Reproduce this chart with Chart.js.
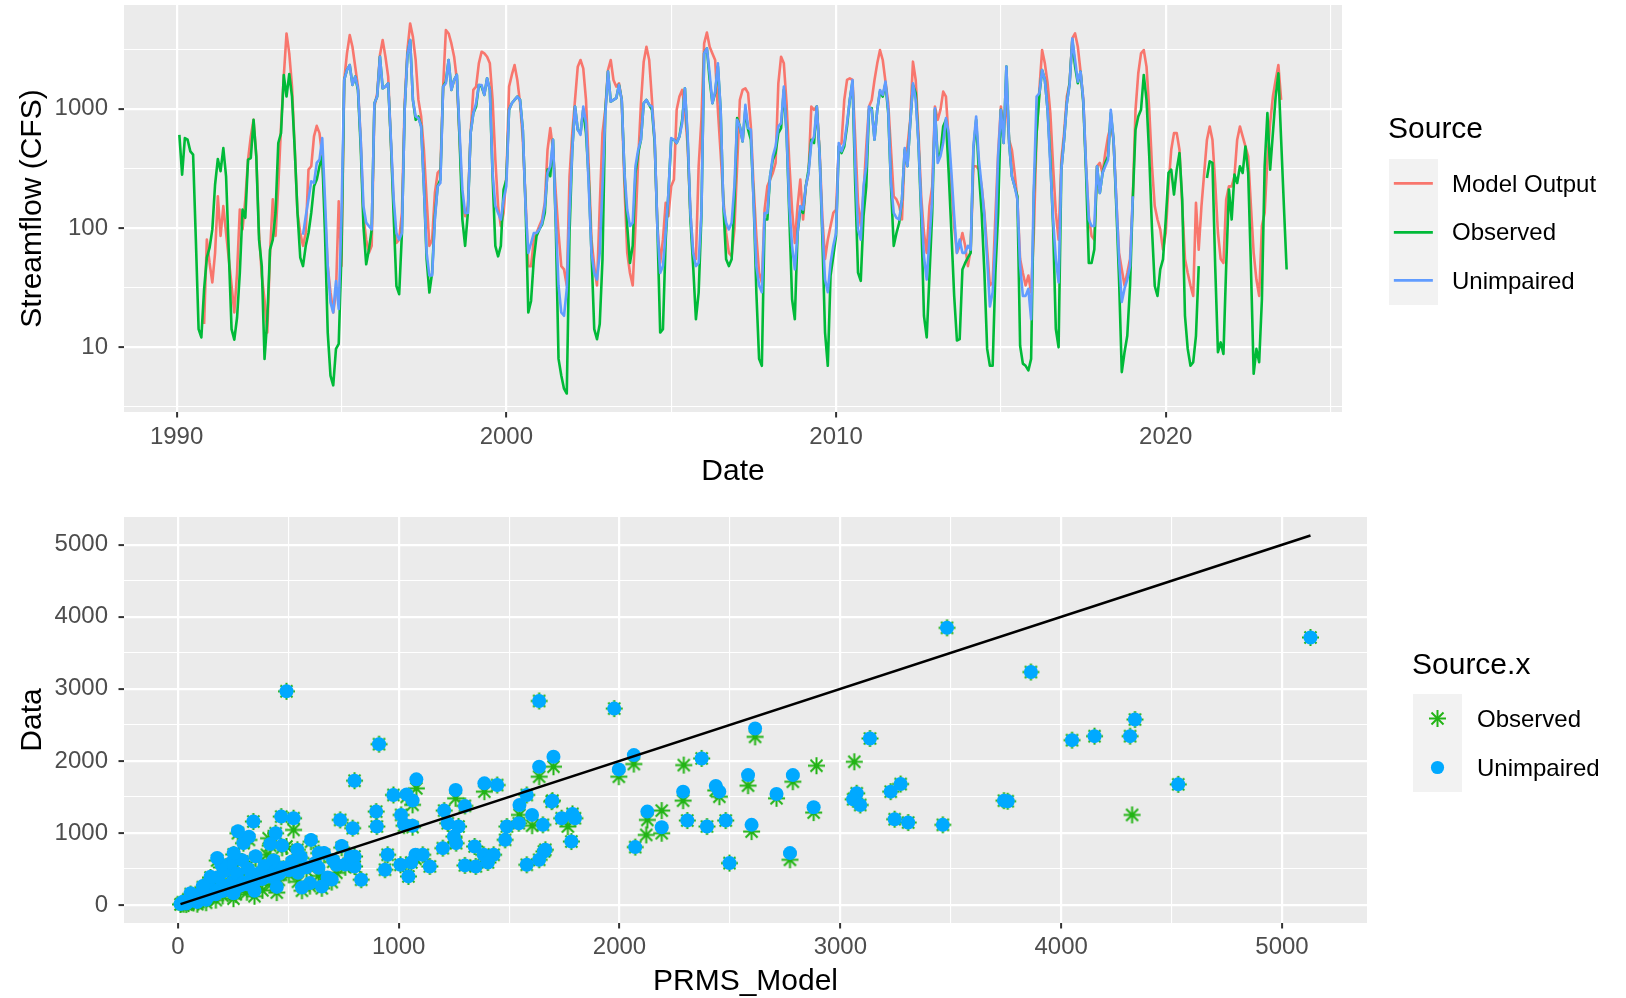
<!DOCTYPE html>
<html lang="en">
<head>
<meta charset="utf-8">
<title>Streamflow: PRMS model vs observed</title>
<script src="https://cdn.jsdelivr.net/npm/chart.js@4.4.1/dist/chart.umd.min.js"></script>
<style>
    html, body { margin: 0; padding: 0; background: #ffffff; }
    body { position: relative; width: 1626px; height: 998px; overflow: hidden; font-family: 'Liberation Sans', Arial, sans-serif; }
    canvas { position: absolute; left: 0; }
    #flowChart { top: 0; }
    #scatterChart { top: 490px; }
    .legend-title { position: absolute; font-size: 30px; line-height: 30px; color: #000; white-space: nowrap; }
    .legend-keys { position: absolute; background: #F2F2F2; }
    .legend-glyph { position: absolute; }
    .legend-label { position: absolute; font-size: 24px; line-height: 24px; color: #000; white-space: nowrap; }
</style>
</head>
<body>
<canvas id="flowChart" width="1626" height="490"></canvas>
<canvas id="scatterChart" width="1626" height="508"></canvas>
<div id="flowLegend"></div>
<div id="scatterLegend"></div>
<script>
(function () {
    // monthly mean streamflow (CFS); [year, month] of the first value
    const OBSERVED_START = [1990, 2];
    const MODEL_START = [1990, 11];
    const UNIMPAIRED_START = [1993, 11];

    const observed = [
        606, 281, 569, 551, 440, 413, 80, 14.2, 12.1, 30.7, 56.5, 68.5,
        97.5, 232, 380, 300, 469, 272, 62, 14.2, 11.6, 17.8, 42, 143,
        122, 375, 387, 809, 400, 80, 48, 8.0, 17.2, 66, 80, 134,
        517, 626, 1924, 1268, 1961, 1268, 454, 134, 56.5, 48, 71, 91,
        134, 224, 255, 330, 400, 91, 13.3, 5.8, 4.8, 9.7, 10.7, 62,
        1747, 2118, 2332, 1587, 1863, 1441, 484, 104, 49.7, 66, 97.5, 1115,
        1268, 2737, 1488, 1537, 1639, 517, 126, 32.7, 27.9, 91, 981, 2827,
        3773, 1189, 809, 863, 712, 224, 54.7, 28.8, 42.3, 126, 224, 255,
        1537, 1692, 2568, 1441, 1747, 1924, 551, 118, 71, 134, 626, 920,
        1046, 1587, 1537, 1309, 1805, 1441, 272, 71, 58, 71, 210, 255,
        981, 1115, 1189, 1268, 1189, 668, 153, 19.6, 24.5, 54.7, 86, 97.5,
        107, 134, 309, 272, 551, 104, 8.0, 5.8, 4.5, 4.1, 91, 454,
        1046, 668, 626, 981, 626, 255, 62, 14.2, 11.7, 15.7, 54.7, 920,
        2051, 1152, 1189, 1228, 1587, 1189, 290, 104, 51, 71, 290, 426,
        551, 1115, 1189, 1080, 981, 517, 97.5, 13.3, 14.2, 80, 197, 551,
        551, 517, 587, 809, 1488, 551, 118, 48, 17.2, 28.8, 126, 2919,
        3214, 1747, 1115, 1352, 2259, 981, 153, 54.7, 48, 54.7, 163, 836,
        712, 533, 981, 668, 551, 174, 28.8, 8.0, 7.0, 118, 118, 272,
        375, 426, 626, 689, 1441, 626, 126, 25.3, 17.2, 91, 143, 134,
        224, 309, 551, 517, 1046, 426, 86, 13.3, 7.0, 39.7, 58, 86,
        484, 426, 484, 712, 1189, 1692, 224, 42.3, 36.1, 126, 224, 981,
        1013, 551, 981, 1395, 1268, 1639, 920, 224, 71, 91, 111, 174,
        454, 330, 759, 1587, 1352, 517, 126, 18.4, 12.1, 39.7, 134, 981,
        400, 426, 712, 809, 290, 91, 27, 11.4, 11.7, 45, 51, 56.5,
        62, 454, 809, 290, 134, 42.3, 9.7, 7.0, 7.0, 42.3, 134, 981,
        517, 2259, 517, 272, 224, 185, 10.3, 7.3, 7.0, 6.4, 8.0, 197,
        626, 1309, 2118, 1747, 981, 375, 104, 14.2, 10, 309, 551, 1115,
        1639, 3773, 2259, 1639, 2051, 1115, 290, 51, 51, 66, 330, 197,
        290, 352, 400, 920, 551, 153, 37.2, 6.2, 9.1, 12.5, 32.7, 174,
        668, 863, 981, 1924, 1189, 400, 97.5, 32.7, 27, 45, 54.7, 118,
        290, 309, 191, 309, 426, 174, 18.4, 9.7, 7.0, 7.5, 12.5, 48,
        null, null, 263, 363, 352, 48, 9.1, 11, 8.8, 48, 210, 118,
        281, 239, 330, 290, 484, 290, 48, 6.0, 9.7, 7.5, 25.3, 330,
        920, 309, 626, 1268, 1987, 551, 153, 45
    ];

    const modelOutput = [
        15.7, 80, 51,
        35, 62, 185, 86, 153, 91, 55, 33, 19.6, 42, 143, 97.5,
        174, 375, 587, 809, 400, 91, 40, 25, 13.3, 62, 174, 86,
        224, 712, 1863, 4289, 2919, 1537, 454, 134, 91, 71, 91, 309,
        330, 587, 720, 626, 400, 134, 48, 29, 19.6, 29, 168, 48,
        1747, 2919, 4154, 3318, 2259, 1537, 551, 126, 80, 62, 71, 1046,
        1352, 2827, 3773, 2737, 1863, 517, 153, 75, 80, 134, 1115, 3112,
        5198, 4022, 2568, 1189, 863, 454, 174, 71, 80, 197, 290, 309,
        1537, 4574, 4289, 3538, 2737, 1747, 551, 174, 126, 153, 626, 1441,
        1537, 2408, 3014, 2919, 2737, 2408, 1189, 375, 153, 104, 134, 272,
        1537, 1924, 2332, 1747, 1115, 551, 174, 48, 48, 80, 91, 104,
        118, 163, 454, 689, 454, 197, 91, 48, 45, 33, 272, 626,
        1189, 2259, 2568, 2187, 1189, 330, 80, 48, 33, 153, 626, 981,
        2118, 2568, 1747, 1537, 1639, 1189, 224, 62, 42, 33, 104, 375,
        1115, 2487, 3318, 2568, 1189, 517, 104, 51, 80, 163, 126, 224,
        255, 981, 1268, 1441, 981, 484, 134, 62, 55, 330, 809, 3538,
        4372, 3318, 2919, 2568, 981, 426, 174, 91, 62, 58, 97.5, 330,
        1189, 1441, 1488, 1352, 712, 224, 86, 42, 35, 143, 224, 255,
        290, 352, 1639, 2737, 2408, 1115, 352, 143, 75, 153, 255, 118,
        224, 290, 1046, 981, 1046, 454, 126, 55, 80, 104, 134, 143,
        484, 517, 1189, 1747, 1805, 1747, 551, 163, 104, 197, 484, 1046,
        1189, 1747, 2408, 3112, 2568, 1692, 1115, 454, 185, 174, 153, 118,
        426, 484, 809, 2487, 1747, 626, 185, 91, 62, 153, 224, 1046,
        809, 981, 1395, 1268, 551, 224, 104, 62, 71, 91, 71, 48,
        66, 330, 330, 309, 224, 134, 66, 33, 35, 126, 426, 1046,
        712, 1115, 551, 454, 290, 174, 55, 42, 33, 40, 29, 91,
        626, 1441, 3112, 2408, 1639, 920, 330, 134, 80, 375, 626, 1268,
        1639, 3896, 4289, 3318, 2051, 1189, 330, 126, 86, 80, 330, 352,
        290, 426, 587, 712, 551, 174, 62, 45, 33, 42, 55, 174,
        981, 1987, 2919, 3112, 2259, 981, 330, 153, 118, 97.5, 66, 91,
        224, 454, 626, 626, 454, 153, 55, 42, 33, 27, 163, 66,
        153, 290, 551, 712, 551, 239, 91, 55, 51, 174, 224, 224,
        272, 551, 712, 587, 484, 400, 153, 62, 37, 27, 104, 134,
        375, 759, 1268, 1747, 2332, 1189
    ];

    const unimpaired = [
        88, 126, 174,
        247, 239, 352, 375, 569, 174, 48, 23.8, 19.6, 36, 21, 126,
        1747, 2118, 2332, 1587, 1863, 1488, 551, 153, 111, 104, 97.5, 1115,
        1268, 2737, 1488, 1537, 1639, 551, 174, 91, 80, 91, 981, 2827,
        3773, 1189, 863, 836, 712, 224, 62, 40, 40, 118, 224, 239,
        1537, 1639, 2568, 1441, 1747, 1924, 626, 210, 134, 134, 626, 920,
        1115, 1587, 1587, 1309, 1805, 1441, 290, 153, 134, 118, 174, 224,
        981, 1115, 1189, 1268, 1189, 668, 153, 62, 75, 91, 91, 97.5,
        111, 153, 290, 330, 551, 118, 33, 19.6, 18.4, 30.7, 134, 454,
        1046, 668, 606, 1046, 759, 224, 62, 42, 37, 62, 224, 863,
        2051, 1152, 1189, 1228, 1587, 1189, 290, 143, 104, 111, 330, 454,
        551, 1115, 1189, 1080, 1046, 551, 97.5, 42, 48, 91, 197, 569,
        551, 517, 587, 759, 1488, 587, 134, 62, 48, 51, 134, 2919,
        3214, 1987, 1115, 1395, 2408, 981, 153, 111, 97.5, 111, 224, 809,
        712, 533, 1080, 689, 668, 163, 48, 33, 29, 134, 134, 272,
        400, 484, 712, 759, 1537, 626, 153, 71, 45, 91, 153, 143,
        224, 290, 517, 587, 1046, 426, 104, 37, 29, 51, 71, 91,
        517, 440, 517, 759, 1189, 1747, 330, 97.5, 80, 224, 330, 1046,
        981, 551, 981, 1441, 1309, 1692, 981, 239, 134, 122, 118, 174,
        469, 330, 759, 1639, 1189, 517, 153, 58, 37, 80, 174, 1013,
        352, 400, 517, 836, 626, 290, 126, 62, 80, 62, 62, 71,
        66, 484, 863, 375, 224, 126, 55, 22, 29, 80, 400, 981,
        517, 2259, 517, 272, 224, 174, 48, 27, 27, 31, 17.2, 224,
        1268, 1352, 2118, 1747, 981, 330, 118, 55, 35, 309, 551, 1115,
        1587, 3896, 2568, 1692, 2051, 1189, 330, 118, 104, 104, 330, 197,
        290, 330, 375, 981, 551, 174, 55, 24, 31, 37, 48, 185
    ];

    const YEAR_TICKS = [1990, 2000, 2010, 2020];
    const FLOW_TICKS = [10, 100, 1000];

    // paired months: PRMS model (x) against observed / unimpaired (y)
    const scatterModel = [
        5129, 4334, 4151, 4312, 4530, 4321, 3483, 3863, 4049, 1976,
        2614, 2065, 1997, 2291, 2372, 2892, 3063, 3134, 2582, 2785,
        2288, 2436, 2452, 2711, 2879, 3074, 3058, 3090, 3228, 3273,
        3246, 3307, 3464, 3741, 3758, 2126, 2191, 2191, 2121, 2071,
        2307, 2396, 2481, 2598, 2498, 2772, 1696, 1738, 1787, 1798,
        1766, 1782, 1658, 492, 911, 1636, 800, 1080, 976, 1036,
        1063, 1258, 1388, 1446, 1701, 1636, 1693, 1547, 1580, 1604,
        1653, 1580, 1636, 1664, 1482, 1490, 1544, 1344, 1385, 1430,
        1300, 1349, 1404, 1300, 1206, 1222, 1271, 1260, 1250, 1200,
        1076, 950, 938, 1008, 1044, 1057, 1109, 1141, 1011, 1024,
        1063, 901, 898, 792, 800, 800, 830, 735, 524, 468,
        443, 342, 297, 541, 638, 524, 492, 411, 403,
        12, 18, 27, 41, 48, 63, 71, 84, 93, 104,
        108, 123, 133, 139, 152, 158, 172, 183, 188, 203,
        212, 218, 233, 241, 248, 262, 268, 283, 291, 297,
        313, 318, 333, 338, 352, 361, 368, 383, 392, 398,
        421, 433, 442, 457, 472, 478, 503, 517, 544, 557,
        583, 598, 622, 637, 662, 678, 703, 718, 742, 758,
        783, 148, 197, 253, 113, 58, 322, 272, 178, 418,
        603, 652, 697, 562, 448, 347, 252, 128, 88, 38,
        23
    ];

    const scatterObserved = [
        3713, 2574, 2343, 2343, 1674, 1250, 3847, 3233, 2288, 2726,
        2334, 1956, 1780, 1942, 2034, 1933, 1988, 2311, 1656, 1711,
        1448, 1590, 1503, 1481, 1282, 1550, 1467, 1388, 1573, 1679,
        1190, 1144, 1112, 1448, 1440, 1181, 1310, 996, 973, 803,
        1172, 1089, 1172, 1019, 581, 627, 1448, 1204, 1264, 1204,
        1089, 881, 743, 2966, 2232, 2832, 1725, 1619, 1527, 1500,
        1390, 1481, 1573, 1665, 1919, 1780, 1434, 1250, 1527, 1100,
        1112, 558, 627, 766, 904, 1089, 1135, 812, 697, 697,
        549, 535, 590, 1375, 1310, 1135, 1089, 858, 950, 789,
        640, 697, 489, 558, 397, 590, 697, 535, 1250, 1100,
        1080, 1089, 1296, 1066, 673, 535, 351, 1181, 1204, 1227,
        996, 1158, 858, 766, 720, 1042, 812, 927, 697,
        8, 16, 11, 33, 19, 52, 28, 88, 42, 135,
        57, 196, 92, 276, 108, 162, 68, 347, 205, 126,
        446, 238, 176, 562, 296, 148, 418, 221, 604, 284,
        177, 482, 352, 247, 648, 297, 423, 203, 518, 378,
        283, 597, 452, 348, 793, 502, 418, 576, 322, 652,
        477, 262, 558, 403, 697, 352, 598, 447, 796, 523,
        648, 382, 521, 702, 247, 152, 903, 996, 617, 823,
        878, 232, 318, 198, 172, 122, 88, 31, 11, 6,
        38
    ];

    const scatterUnimpaired = [
        3713, 2574, 2343, 2343, 1674, null, 3847, 3233, 2288, 2726,
        2449, 2080, 1882, null, 2034, null, null, 2311, 1803, 1803,
        1573, 1651, 1573, 1541, 1356, 1550, 1467, 1388, 1573, 1679,
        1190, 1144, 1112, 1448, 1440, 1296, null, 1079, null, 803,
        1172, 1089, 1172, 1112, 581, 720, 1448, 1204, 1264, 1204,
        null, 881, 743, 2966, 2232, 2832, 1725, 1744, 1527, 1535,
        1450, 1596, 1688, 1665, 2057, 1919, 1434, 1388, 1527, 1250,
        1112, 558, 627, 766, 904, 1089, 1135, 812, 697, 697,
        549, 535, 590, 1375, 1310, 1135, 1089, 858, 950, 789,
        697, 697, 489, 558, 397, 590, 697, 535, 1250, 1120,
        1100, 1089, 1296, 1066, 673, 535, 351, 1181, 1204, 1227,
        996, 1158, 858, 766, 720, null, null, null, null,
        14, 21, 30, 46, 52, 60, 69, 97, 88, 152,
        98, 214, 124, 301, 143, 171, 148, 384, 218, 193,
        471, 262, 224, 583, 318, 243, 437, 268, 622, 312,
        288, 503, 368, 329, 676, 352, 441, 362, 542, 402,
        392, 618, 468, 428, 824, 517, 481, 603, 447, 668,
        523, 304, 583, 517, 723, 383, 622, 558, 818, 562,
        672, 391, 558, 718, 262, 163, 948, 1024, 652, 847,
        903, 257, 352, 243, 251, 198, 162, 72, 41, 19,
        44
    ];

    const DATA_TICKS = [0, 1000, 2000, 3000, 4000, 5000];

    const COLORS = {
        model: '#F8766D',
        observed: '#00BA38',
        unimpaired: '#619CFF',
        observedPoint: '#22B415',
        unimpairedPoint: '#00A9FF'
    };

    Chart.defaults.font.family = "'Liberation Sans', Arial, sans-serif";

    const monthSeries = (values, start) =>
        values.map((v, i) => ({ x: start[0] + (start[1] - 1 + i) / 12, y: v }));

    // ggplot style 5% padding of the data range
    const expand = (lo, hi) => {
        const pad = (hi - lo) * 0.05;
        return [lo - pad, hi + pad];
    };

    const near = (a, b) => Math.abs(a - b) <= 1e-6 * Math.max(1, Math.abs(b));
    const isIn = (list, v) => list.some((m) => near(v, m));

    const linearTicks = (major, min, max) => {
        const step = major[1] - major[0];
        const out = [];
        for (let v = major[0] - step; v <= major[major.length - 1] + step + 1e-9; v += step / 2) {
            if (v >= min && v <= max) out.push({ value: v });
        }
        return out;
    };

    const logTicks = (major, min, max) => {
        const out = [];
        const lo = Math.log10(major[0]) - 1;
        const hi = Math.log10(major[major.length - 1]) + 1;
        for (let e = lo; e <= hi + 1e-9; e += 0.5) {
            const v = Math.pow(10, e);
            if (v >= min && v <= max) out.push({ value: v });
        }
        return out;
    };

    const gridFor = (major) => ({
        color: '#FFFFFF',
        lineWidth: (ctx) => (ctx.tick && isIn(major, ctx.tick.value) ? 2.2 : 1.1),
        tickColor: (ctx) => (ctx.tick && isIn(major, ctx.tick.value) ? '#333333' : 'rgba(0,0,0,0)'),
        tickWidth: 2,
        tickLength: 5.5,
        drawTicks: true
    });

    // fixed axis box size, no extra room for label overhang
    const fixBox = (prop, size) => (s) => {
        s[prop] = size;
        s.paddingTop = 0;
        s.paddingBottom = 0;
        s.paddingLeft = 0;
        s.paddingRight = 0;
    };

    const tickFont = { size: 24 };
    const titleFont = { size: 30 };

    const panelBg = {
        id: 'panelBg',
        beforeDraw(chart) {
            const { ctx, chartArea: a } = chart;
            ctx.save();
            ctx.fillStyle = '#EBEBEB';
            ctx.fillRect(a.left, a.top, a.right - a.left, a.bottom - a.top);
            ctx.restore();
        }
    };

    // ---- top panel: time series ----
    const obsPts = monthSeries(observed, OBSERVED_START);
    const modelPts = monthSeries(modelOutput, MODEL_START);
    const unimpPts = monthSeries(unimpaired, UNIMPAIRED_START);

    const [xMinT, xMaxT] = expand(obsPts[0].x, obsPts[obsPts.length - 1].x);
    const flowVals = [...observed, ...modelOutput, ...unimpaired].filter((v) => v !== null);
    const [lMin, lMax] = expand(Math.log10(Math.min(...flowVals)), Math.log10(Math.max(...flowVals)));
    const yMinT = Math.pow(10, lMin);
    const yMaxT = Math.pow(10, lMax);

    const lineStyle = (color) => ({
        borderColor: color,
        backgroundColor: color,
        borderWidth: 2.6,
        pointRadius: 0,
        tension: 0,
        spanGaps: false,
        borderJoinStyle: 'round',
        fill: false
    });

    new Chart(document.getElementById('flowChart'), {
        type: 'line',
        data: {
            datasets: [
                { label: 'Unimpaired', data: unimpPts, ...lineStyle(COLORS.unimpaired) },
                { label: 'Observed', data: obsPts, ...lineStyle(COLORS.observed) },
                { label: 'Model Output', data: modelPts, ...lineStyle(COLORS.model) }
            ]
        },
        options: {
            responsive: false,
            animation: false,
            events: [],
            layout: { padding: { left: 0, top: 5, right: 284, bottom: 0 } },
            plugins: { legend: { display: false }, tooltip: { enabled: false } },
            scales: {
                x: {
                    type: 'linear',
                    min: xMinT,
                    max: xMaxT,
                    afterBuildTicks: (s) => { s.ticks = linearTicks(YEAR_TICKS, xMinT, xMaxT); },
                    afterFit: fixBox('height', 78),
                    border: { display: false },
                    grid: gridFor(YEAR_TICKS),
                    ticks: {
                        autoSkip: false,
                        maxRotation: 0,
                        padding: 5.5,
                        color: '#4D4D4D',
                        font: tickFont,
                        callback: (v) => (isIn(YEAR_TICKS, v) ? String(Math.round(v)) : '')
                    },
                    title: { display: true, text: 'Date', color: '#000000', font: titleFont, padding: { top: 0, bottom: 0 } }
                },
                y: {
                    type: 'logarithmic',
                    min: yMinT,
                    max: yMaxT,
                    afterBuildTicks: (s) => { s.ticks = logTicks(FLOW_TICKS, yMinT, yMaxT); },
                    afterFit: fixBox('width', 124),
                    border: { display: false },
                    grid: gridFor(FLOW_TICKS),
                    ticks: {
                        autoSkip: false,
                        padding: 10.5,
                        color: '#4D4D4D',
                        font: tickFont,
                        callback: (v) => (isIn(FLOW_TICKS, v) ? String(Math.round(v)) : '')
                    },
                    title: { display: true, text: 'Streamflow (CFS)', color: '#000000', font: titleFont, padding: { top: 15, bottom: 0 } }
                }
            }
        },
        plugins: [panelBg]
    });

    // ---- bottom panel: model vs data ----
    const pairs = (xs, ys) => xs.map((x, i) => ({ x, y: ys[i] })).filter((p) => p.y !== null);
    const xLo = Math.min(...scatterModel);
    const xHi = Math.max(...scatterModel);
    const yVals = [...scatterObserved, ...scatterUnimpaired].filter((v) => v !== null);
    const [xMinB, xMaxB] = expand(xLo, xHi);
    const [yMinB, yMaxB] = expand(Math.min(xLo, ...yVals), Math.max(xHi, ...yVals));

    const asterisk = (color, r, lw) => {
        const size = Math.ceil(2 * r + lw + 2);
        const cv = document.createElement('canvas');
        cv.width = size;
        cv.height = size;
        const g = cv.getContext('2d');
        const c = size / 2;
        g.strokeStyle = color;
        g.lineWidth = lw;
        g.beginPath();
        for (let k = 0; k < 4; k++) {
            const a = (k * Math.PI) / 4;
            g.moveTo(c - r * Math.cos(a), c - r * Math.sin(a));
            g.lineTo(c + r * Math.cos(a), c + r * Math.sin(a));
        }
        g.stroke();
        return cv;
    };

    new Chart(document.getElementById('scatterChart'), {
        type: 'scatter',
        data: {
            datasets: [
                {
                    label: '1:1',
                    data: [{ x: xLo, y: xLo }, { x: xHi, y: xHi }],
                    showLine: true,
                    borderColor: '#000000',
                    borderWidth: 2.6,
                    pointRadius: 0
                },
                {
                    label: 'Unimpaired',
                    data: pairs(scatterModel, scatterUnimpaired),
                    pointStyle: 'circle',
                    pointRadius: 7,
                    backgroundColor: COLORS.unimpairedPoint,
                    borderWidth: 0
                },
                {
                    label: 'Observed',
                    data: pairs(scatterModel, scatterObserved),
                    pointStyle: asterisk(COLORS.observedPoint, 8.5, 2),
                    pointRadius: 9
                }
            ]
        },
        options: {
            responsive: false,
            animation: false,
            events: [],
            layout: { padding: { left: 0, top: 27, right: 259, bottom: 0 } },
            plugins: { legend: { display: false }, tooltip: { enabled: false } },
            scales: {
                x: {
                    type: 'linear',
                    min: xMinB,
                    max: xMaxB,
                    afterBuildTicks: (s) => { s.ticks = linearTicks(DATA_TICKS, xMinB, xMaxB); },
                    afterFit: fixBox('height', 75),
                    border: { display: false },
                    grid: gridFor(DATA_TICKS),
                    ticks: {
                        autoSkip: false,
                        maxRotation: 0,
                        padding: 4.5,
                        color: '#4D4D4D',
                        font: tickFont,
                        callback: (v) => (isIn(DATA_TICKS, v) ? String(Math.round(v)) : '')
                    },
                    title: { display: true, text: 'PRMS_Model', color: '#000000', font: titleFont, padding: { top: 0, bottom: -2 } }
                },
                y: {
                    type: 'linear',
                    min: yMinB,
                    max: yMaxB,
                    afterBuildTicks: (s) => { s.ticks = linearTicks(DATA_TICKS, yMinB, yMaxB); },
                    afterFit: fixBox('width', 124),
                    border: { display: false },
                    grid: gridFor(DATA_TICKS),
                    ticks: {
                        autoSkip: false,
                        padding: 10.5,
                        color: '#4D4D4D',
                        font: tickFont,
                        callback: (v) => (isIn(DATA_TICKS, v) ? String(Math.round(v)) : '')
                    },
                    title: { display: true, text: 'Data', color: '#000000', font: titleFont, padding: { top: 15, bottom: 0 } }
                }
            }
        },
        plugins: [panelBg]
    });

    // ---- legends ----
    const glyph = (item, size) => {
        const c = size / 2;
        if (item.shape === 'line') {
            return `<line x1="${c - 19.5}" y1="${c}" x2="${c + 19.5}" y2="${c}" stroke="${item.color}" stroke-width="2.6"/>`;
        }
        if (item.shape === 'star') {
            const r = 8.5;
            let s = '';
            for (let k = 0; k < 4; k++) {
                const a = (k * Math.PI) / 4;
                const dx = r * Math.cos(a);
                const dy = r * Math.sin(a);
                s += `<line x1="${c - dx}" y1="${c - dy}" x2="${c + dx}" y2="${c + dy}" stroke="${item.color}" stroke-width="2"/>`;
            }
            return s;
        }
        return `<circle cx="${c}" cy="${c}" r="6.6" fill="${item.color}"/>`;
    };

    const placeLegend = (host, spec) => {
        const parts = [];
        parts.push(`<div class="legend-title" style="left:${spec.left - 1}px;top:${spec.titleMid - 14.7}px">${spec.title}</div>`);
        parts.push(`<div class="legend-keys" style="left:${spec.left}px;top:${spec.top}px;width:${spec.key}px;height:${spec.key * spec.items.length}px"></div>`);
        spec.items.forEach((item, i) => {
            const top = spec.top + i * spec.key;
            parts.push(`<svg class="legend-glyph" style="left:${spec.left}px;top:${top}px" width="${spec.key}" height="${spec.key}">${glyph(item, spec.key)}</svg>`);
            parts.push(`<div class="legend-label" style="left:${spec.labelLeft}px;top:${top + spec.key / 2 - 11.8}px">${item.label}</div>`);
        });
        host.innerHTML = parts.join('');
    };

    placeLegend(document.getElementById('flowLegend'), {
        title: 'Source',
        left: 1389,
        top: 159,
        key: 48.7,
        titleMid: 128,
        labelLeft: 1452,
        items: [
            { label: 'Model Output', color: COLORS.model, shape: 'line' },
            { label: 'Observed', color: COLORS.observed, shape: 'line' },
            { label: 'Unimpaired', color: COLORS.unimpaired, shape: 'line' }
        ]
    });

    placeLegend(document.getElementById('scatterLegend'), {
        title: 'Source.x',
        left: 1413,
        top: 694,
        key: 49,
        titleMid: 664,
        labelLeft: 1477,
        items: [
            { label: 'Observed', color: COLORS.observedPoint, shape: 'star' },
            { label: 'Unimpaired', color: COLORS.unimpairedPoint, shape: 'dot' }
        ]
    });
})();
</script>
</body>
</html>
